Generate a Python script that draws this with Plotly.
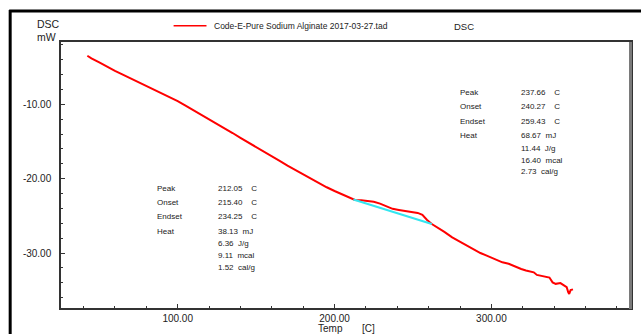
import plotly.graph_objects as go

# ---------------- data ----------------
temp = [42.4, 45, 50, 55, 60, 65, 70, 75, 80, 85, 90, 95, 100, 105, 110, 115, 120, 125,
        130, 135, 140, 145, 150, 155, 160, 165, 170, 175, 180, 185, 190, 195, 200, 205,
        210, 213, 217, 221, 225, 229, 233, 237, 241, 245, 249, 253, 256, 259, 262, 266,
        270, 275, 280, 285, 289, 293, 297, 301, 305, 307, 311, 315, 319, 322, 325, 327,
        329, 331, 334, 337, 339, 341, 344, 346, 348, 349, 349.6, 350.5, 352]
dsc = [-3.45, -3.8, -4.35, -4.95, -5.5, -6.0, -6.5, -6.95, -7.45, -7.95, -8.45, -9.0,
       -9.55, -10.15, -10.75, -11.35, -11.95, -12.6, -13.2, -13.85, -14.5, -15.1, -15.75,
       -16.35, -17.0, -17.6, -18.25, -18.85, -19.45, -20.05, -20.6, -21.15, -21.65, -22.15,
       -22.6, -22.85, -22.9, -22.95, -23.1, -23.35, -23.75, -24.05, -24.2, -24.35, -24.5,
       -24.6, -24.85, -25.55, -26.1, -26.6, -27.15, -27.9, -28.5, -29.1, -29.6, -30.0,
       -30.35, -30.75, -31.05, -31.25, -31.45, -31.85, -32.15, -32.35, -32.5, -32.6,
       -32.95, -33.05, -33.2, -33.3, -33.95, -34.15, -34.05, -34.35, -34.6, -35.3, -35.5,
       -35.0, -34.9]

baseline_temp = [212, 262]
baseline_dsc = [-22.8, -26.1]

series_name = "Code-E-Pure Sodium Alginate 2017-03-27.tad"

x_ticks = [100, 200, 300]
y_ticks = [-10, -20, -30]

# peak analysis blocks
labels = ["Peak", "Onset", "Endset", "Heat"]
right_values = ["237.66", "240.27", "259.43", "68.67", "11.44", "16.40", "2.73"]
left_values = ["212.05", "215.40", "234.25", "38.13", "6.36", "9.11", "1.52"]
units = ["C", "C", "C", "mJ", "J/g", "mcal", "cal/g"]

# ---------------- layout geometry (pixels) ----------------
W, H = 641, 334
L, R, T, B = 61, 633, 42, 308


def px(x):
    return (x - L) / (R - L)


def py(y):
    return (B - y) / (B - T)


NB = "\u00a0"
FONT = "Liberation Sans, Arial, sans-serif"

fig = go.Figure()
fig.add_trace(go.Scatter(x=temp, y=dsc, mode="lines", name=series_name,
                         line=dict(color="#ff0000", width=2), showlegend=False))
fig.add_trace(go.Scatter(x=baseline_temp, y=baseline_dsc, mode="lines",
                         line=dict(color="#33e6f0", width=2), showlegend=False))

ann = []
# Axis unit labels
ann.append(dict(x=px(35), y=py(24), text="DSC", xanchor="left", yanchor="middle",
                font=dict(size=10.5, color="#222")))
ann.append(dict(x=px(35), y=py(37), text="mW", xanchor="left", yanchor="middle",
                font=dict(size=10.5, color="#222")))
# legend text
ann.append(dict(x=px(213), y=py(26), text=series_name, xanchor="left", yanchor="middle",
                font=dict(size=8.5, color="#222")))
ann.append(dict(x=px(453), y=py(26), text="DSC", xanchor="left", yanchor="middle",
                font=dict(size=9.5, color="#222")))
# x title
ann.append(dict(x=px(317), y=py(328), text="Temp" + NB * 7 + "[C]", xanchor="left",
                yanchor="middle", font=dict(size=10, color="#222")))

# blocks
right_label_y = [92.7, 106.5, 121.7, 135]
right_val_y = [92.7, 106.5, 121.7, 135, 148, 160, 171.5]
left_label_y = [188.3, 202.7, 216.7, 231.7]
left_val_y = [188.3, 202.7, 216.7, 231.7, 243, 255, 267.7]


def unit_text(v, u):
    gap = NB * 4 if u == "C" else NB * 2
    return v + gap + u


for lab, yy in zip(labels, right_label_y):
    ann.append(dict(x=px(459), y=py(yy), text=lab, xanchor="left", yanchor="middle",
                    font=dict(size=8, color="#222")))
for v, u, yy in zip(right_values, units, right_val_y):
    ann.append(dict(x=px(520.5), y=py(yy), text=unit_text(v, u), xanchor="left",
                    yanchor="middle", font=dict(size=8, color="#222")))
for lab, yy in zip(labels, left_label_y):
    ann.append(dict(x=px(155), y=py(yy), text=lab, xanchor="left", yanchor="middle",
                    font=dict(size=8, color="#222")))
for v, u, yy in zip(left_values, units, left_val_y):
    ann.append(dict(x=px(216.5), y=py(yy), text=unit_text(v, u), xanchor="left",
                    yanchor="middle", font=dict(size=8, color="#222")))

for a in ann:
    a.update(xref="paper", yref="paper", showarrow=False)

shapes = [
    # outer frame (left and top)
    dict(type="line", xref="paper", yref="paper", x0=px(10), x1=px(10), y0=py(10), y1=py(400),
         line=dict(color="#000", width=3)),
    dict(type="line", xref="paper", yref="paper", x0=px(9), x1=px(700), y0=py(11), y1=py(11),
         line=dict(color="#000", width=3)),
    # legend sample line
    dict(type="line", xref="paper", yref="paper", x0=px(174), x1=px(207), y0=py(25.7),
         y1=py(25.7), line=dict(color="#ff0000", width=1.5)),
    # right border of plot (grey)
    dict(type="line", xref="paper", yref="paper", x0=px(632.5), x1=px(632.5), y0=py(42),
         y1=py(309), line=dict(color="#7a7a7a", width=3)),
]

fig.update_layout(
    width=W, height=H,
    margin=dict(l=L, r=W - R, t=T, b=H - B),
    paper_bgcolor="white", plot_bgcolor="white",
    font=dict(family=FONT, size=10, color="#222"),
    annotations=ann, shapes=shapes, showlegend=False,
)
fig.update_xaxes(range=[25.6, 389], tickvals=x_ticks, ticktext=[f"{v:.2f}" for v in x_ticks],
                 ticks="inside", ticklen=4, tickcolor="#333", tickwidth=1,
                 minor=dict(dtick=20, tick0=0, ticks="inside", ticklen=2, tickcolor="#333"),
                 showline=True, linecolor="#333", linewidth=1.5, mirror=True,
                 showgrid=False, zeroline=False, tickfont=dict(size=10, color="#222"),
                 ticklabelstandoff=0)
fig.update_yaxes(range=[-37.4, -1.6], tickvals=y_ticks, ticktext=[f"{v:.2f}" for v in y_ticks],
                 ticks="inside", ticklen=4, tickcolor="#333", tickwidth=1,
                 minor=dict(dtick=2, tick0=0, ticks="inside", ticklen=2, tickcolor="#333"),
                 showline=True, linecolor="#333", linewidth=1.5, mirror=True,
                 showgrid=False, zeroline=False, tickfont=dict(size=10, color="#222"),
                 ticklabelstandoff=6)

fig.write_html("out.html", config={"displayModeBar": False},
               post_script="document.body.style.margin='0px';")
